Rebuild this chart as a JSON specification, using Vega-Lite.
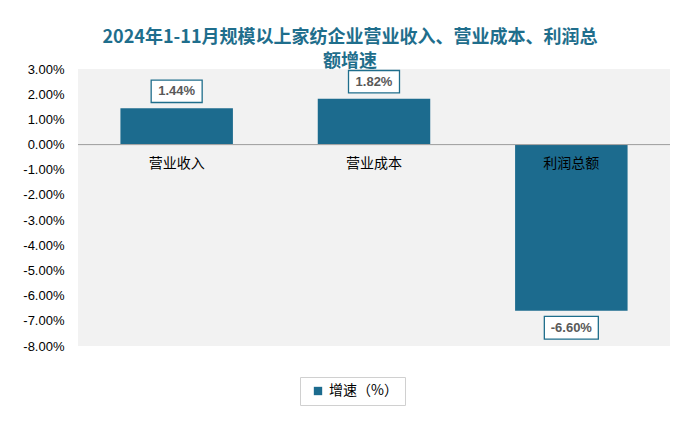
{
  "$schema": "https://vega.github.io/schema/vega-lite/v6.json",
  "autosize": "none",
  "width": 592,
  "height": 277,
  "padding": {"left": 78, "top": 69, "right": 25, "bottom": 78},
  "background": "#ffffff",
  "title": {
    "text": ["2024年1-11月规模以上家纺企业营业收入、营业成本、利润总", "额增速"],
    "font": "Noto Sans CJK SC",
    "fontSize": 18,
    "fontWeight": "bold",
    "color": "#1f6e8c",
    "anchor": "middle",
    "dx": -24,
    "offset": -8,
    "lineHeight": 24
  },
  "config": {
    "view": {"stroke": null, "fill": "#f2f2f2"},
    "font": "Liberation Sans",
    "axisY": {"labelOverlap": false}
  },
  "data": {
    "values": [
      {"item": "营业收入", "value": 0.0144, "series": "增速（%）"},
      {"item": "营业成本", "value": 0.0182, "series": "增速（%）"},
      {"item": "利润总额", "value": -0.066, "series": "增速（%）"}
    ]
  },
  "transform": [
    {"calculate": "replace(format(datum.value, '.2%'), '\u2212', '-')", "as": "label"}
  ],
  "encoding": {
    "x": {
      "field": "item",
      "type": "nominal",
      "sort": null,
      "scale": {"paddingInner": 0.43, "paddingOuter": 0.215},
      "axis": null
    }
  },
  "layer": [
    {
      "mark": {"type": "bar", "color": "#1c6b8e"},
      "encoding": {
        "y": {
          "field": "value",
          "type": "quantitative",
          "scale": {"domain": [-0.08, 0.03], "nice": false},
          "axis": {
            "labelExpr": "replace(format(datum.value, '.2%'), '\u2212', '-')",
            "values": [-0.08, -0.07, -0.06, -0.05, -0.04, -0.03, -0.02, -0.01, 0, 0.01, 0.02, 0.03],
            "tickCount": 12,
            "labelOverlap": false,
            "labelBound": false,
            "domain": false,
            "ticks": false,
            "grid": false,
            "title": null,
            "labelFontSize": 13,
            "labelColor": "#000000",
            "labelPadding": 14,
            "labelFont": "Liberation Sans"
          }
        },
        "color": {
          "field": "series",
          "type": "nominal",
          "scale": {"range": ["#1c6b8e"]},
          "legend": {
            "title": null,
            "orient": "none",
            "legendX": 222,
            "legendY": 308,
            "symbolType": "square",
            "symbolSize": 70,
            "labelFontSize": 14,
            "labelFont": "Noto Sans CJK SC",
            "labelColor": "#000000",
            "strokeColor": "#d0d0d0",
            "fillColor": "#ffffff",
            "padding": 7,
            "symbolOffset": 4,
            "labelOffset": 4
          }
        }
      }
    },
    {
      "mark": {"type": "rule", "color": "#a6a6a6", "strokeWidth": 1},
      "encoding": {"x": {"value": 0}, "x2": {"value": 592}, "y": {"datum": 0, "type": "quantitative"}}
    },
    {
      "mark": {"type": "text", "font": "Noto Sans CJK SC", "fontSize": 14, "color": "#000000", "dy": 19, "baseline": "middle"},
      "encoding": {
        "y": {"datum": 0, "type": "quantitative"},
        "text": {"field": "item"}
      }
    },
    {
      "transform": [{"filter": "datum.value >= 0"}],
      "mark": {"type": "point", "shape": "M-1,-0.44H1V0.44H-1Z", "size": 2600, "filled": true, "fill": "#ffffff", "stroke": "#1f6e8c", "strokeWidth": 1.3, "opacity": 1, "yOffset": -17},
      "encoding": {"y": {"field": "value", "type": "quantitative"}}
    },
    {
      "transform": [{"filter": "datum.value >= 0"}],
      "mark": {"type": "text", "fontSize": 13, "fontWeight": "bold", "color": "#595959", "baseline": "middle", "dy": -17},
      "encoding": {"y": {"field": "value", "type": "quantitative"}, "text": {"field": "label"}}
    },
    {
      "transform": [{"filter": "datum.value < 0"}],
      "mark": {"type": "point", "shape": "M-1,-0.42H1V0.42H-1Z", "size": 2916, "filled": true, "fill": "#ffffff", "stroke": "#1f6e8c", "strokeWidth": 1.3, "opacity": 1, "yOffset": 17},
      "encoding": {"y": {"field": "value", "type": "quantitative"}}
    },
    {
      "transform": [{"filter": "datum.value < 0"}],
      "mark": {"type": "text", "fontSize": 13, "fontWeight": "bold", "color": "#595959", "baseline": "middle", "dy": 17},
      "encoding": {"y": {"field": "value", "type": "quantitative"}, "text": {"field": "label"}}
    }
  ]
}
